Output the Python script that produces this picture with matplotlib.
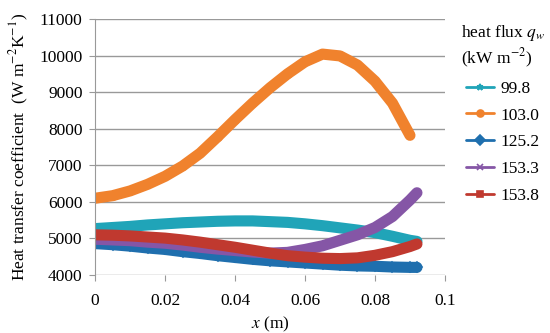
import matplotlib
matplotlib.use("Agg")
import matplotlib.pyplot as plt

plt.rcParams['font.family'] = ['Liberation Serif', 'DejaVu Serif']
plt.rcParams['mathtext.fontset'] = 'stix'

# values (x in m, h in W m^-2 K^-1)
x = [0.0, 0.005, 0.01, 0.015, 0.02, 0.025, 0.03, 0.035, 0.04, 0.045,
     0.05, 0.055, 0.06, 0.065, 0.07, 0.075, 0.08, 0.085, 0.09, 0.092]
x_orange = x[:-1]

h_998 = [5270, 5300, 5330, 5370, 5400, 5430, 5450, 5470, 5480, 5480,
         5460, 5440, 5400, 5350, 5290, 5230, 5160, 5060, 4950, 4920]
h_1030 = [6100, 6170, 6300, 6480, 6700, 6980, 7330, 7780, 8250, 8700,
          9120, 9500, 9830, 10040, 9990, 9740, 9300, 8700, 7820]
h_1252 = [4860, 4830, 4790, 4740, 4700, 4640, 4590, 4530, 4480, 4430,
          4390, 4360, 4330, 4300, 4270, 4250, 4240, 4220, 4210, 4210]
h_1533 = [4980, 4960, 4940, 4900, 4870, 4820, 4760, 4710, 4670, 4630,
          4600, 4620, 4700, 4800, 4950, 5100, 5300, 5600, 6050, 6250]
h_1538 = [5100, 5090, 5070, 5040, 5010, 4960, 4900, 4830, 4760, 4680,
          4600, 4530, 4490, 4460, 4450, 4470, 4540, 4640, 4780, 4850]

series = [
    ('99.8', x, h_998, '#20a4b8', '*'),
    ('103.0', x_orange, h_1030, '#f0822d', 'o'),
    ('125.2', x, h_1252, '#1f6fae', 'D'),
    ('153.3', x, h_1533, '#8556a6', 'x'),
    ('153.8', x, h_1538, '#c0392f', 's'),
]

xticks = [0, 0.02, 0.04, 0.06, 0.08, 0.1]
xticklabels = ['0', '0.02', '0.04', '0.06', '0.08', '0.1']
yticks = [4000, 5000, 6000, 7000, 8000, 9000, 10000, 11000]

fig = plt.figure(figsize=(5.5, 3.33), dpi=100)
ax = fig.add_axes([0.173, 0.174, 0.636, 0.769])

for label, xs, h, color, marker in series:
    ax.plot(xs, h, color=color, lw=8, marker=marker, ms=5, mew=1.2,
            label=label, solid_capstyle='round', solid_joinstyle='round')

ax.set_xlim(0, 0.1)
ax.set_ylim(4000, 11000)
ax.set_xticks(xticks)
ax.set_xticklabels(xticklabels)
ax.set_yticks(yticks)
ax.grid(axis='y', color='#999999', lw=1)
ax.set_axisbelow(True)
for side in ['top', 'right', 'bottom']:
    ax.spines[side].set_visible(False)
ax.spines['left'].set_color('#999999')
ax.tick_params(axis='both', colors='#999999', labelcolor='black', labelsize=12.5,
               length=4, direction='out')
ax.tick_params(axis='x', pad=9)
ax.tick_params(axis='y', pad=5)

ax.set_xlabel('$x$ (m)', fontsize=12.5, labelpad=4)
ax.set_ylabel('Heat transfer coefficient  (W m$^{-2}$K$^{-1}$)', fontsize=12.5,
              labelpad=6)

leg = ax.legend(title='heat flux $q_w$\n(kW m$^{-2}$)', loc='upper left',
                bbox_to_anchor=(1.0, 1.045), frameon=False, fontsize=12.5,
                title_fontsize=12.5, handlelength=1.6, handletextpad=0.4,
                labelspacing=0.62, markerscale=1.0)
for line in leg.get_lines():
    line.set_linewidth(2)

fig.savefig('out.png', dpi=100)
